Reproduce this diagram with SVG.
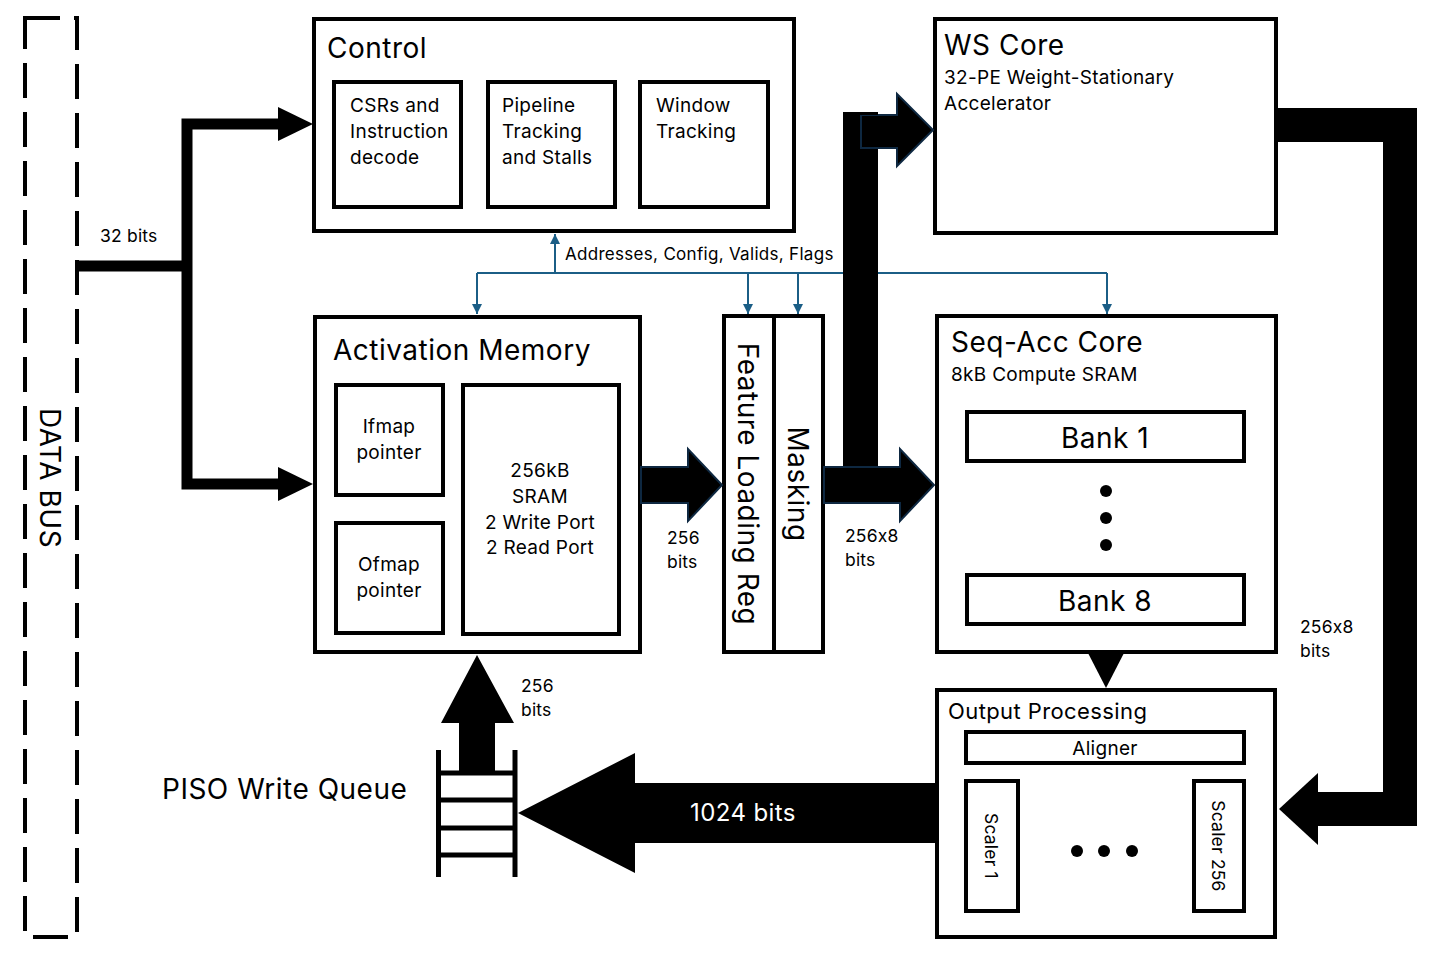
<svg xmlns="http://www.w3.org/2000/svg" width="1432" height="968" viewBox="0 0 1432 968">
<defs>
<style>
text{font-family:Inter,"Liberation Sans",sans-serif;fill:#000;font-feature-settings:"calt" 0}
.box{fill:#fff;stroke:#000;stroke-width:4}
.t28{font-size:28px;letter-spacing:0.5px}
.t19{font-size:19px;letter-spacing:0.3px}
.t17{font-size:17.5px;letter-spacing:0.2px}
.blue{fill:none;stroke:#1B5E86;stroke-width:2}
.blk{fill:#000;stroke:#0E2841;stroke-width:2;stroke-linejoin:miter}
</style>
<marker id="ba" viewBox="0 0 10 10" refX="10" refY="5" markerWidth="10" markerHeight="10" markerUnits="userSpaceOnUse" orient="auto">
<path d="M0,0 L10,5 L0,10 z" fill="#1B5E86"/>
</marker>
</defs>
<rect width="1432" height="968" fill="#fff"/>

<g id="databus">
<rect x="25" y="18" width="52" height="919" fill="none" stroke="#000" stroke-width="4" stroke-dasharray="35 14"/>
<text class="t28" transform="translate(40,478) rotate(90)" text-anchor="middle">DATA BUS</text>
</g>

<g id="control">
<rect class="box" x="314" y="19" width="480" height="212"/>
<text class="t28" x="327" y="58">Control</text>
<rect class="box" x="334" y="82" width="127" height="125"/>
<text class="t19" x="350" y="112">CSRs and</text>
<text class="t19" x="350" y="138">Instruction</text>
<text class="t19" x="350" y="164">decode</text>
<rect class="box" x="488" y="82" width="127" height="125"/>
<text class="t19" x="502" y="112">Pipeline</text>
<text class="t19" x="502" y="138">Tracking</text>
<text class="t19" x="502" y="164">and Stalls</text>
<rect class="box" x="640" y="82" width="128" height="125"/>
<text class="t19" x="656" y="112">Window</text>
<text class="t19" x="656" y="138">Tracking</text>
</g>

<g id="wscore">
<rect class="box" x="935" y="19" width="341" height="214"/>
<text class="t28" x="944" y="55">WS Core</text>
<text class="t19" x="944" y="84">32-PE Weight-Stationary</text>
<text class="t19" x="944" y="110">Accelerator</text>
</g>

<g id="actmem">
<rect class="box" x="315" y="317" width="325" height="335"/>
<text class="t28" x="333" y="360">Activation Memory</text>
<rect class="box" x="336" y="385" width="107" height="110"/>
<text class="t19" x="389" y="433" text-anchor="middle">Ifmap</text>
<text class="t19" x="389" y="459" text-anchor="middle">pointer</text>
<rect class="box" x="336" y="523" width="107" height="110"/>
<text class="t19" x="389" y="571" text-anchor="middle">Ofmap</text>
<text class="t19" x="389" y="597" text-anchor="middle">pointer</text>
<rect class="box" x="463" y="385" width="156" height="249"/>
<text class="t19" x="540" y="477" text-anchor="middle">256kB</text>
<text class="t19" x="540" y="503" text-anchor="middle">SRAM</text>
<text class="t19" x="540" y="529" text-anchor="middle">2 Write Port</text>
<text class="t19" x="540" y="554" text-anchor="middle">2 Read Port</text>
</g>

<g id="flreg">
<rect class="box" x="724" y="316" width="50" height="336"/>
<text class="t28" transform="translate(738,484) rotate(90)" text-anchor="middle">Feature Loading Reg</text>
</g>
<g id="masking">
<rect class="box" x="774" y="316" width="49" height="336"/>
<text class="t28" transform="translate(788,484) rotate(90)" text-anchor="middle">Masking</text>
</g>

<g id="seqacc">
<rect class="box" x="937" y="316" width="339" height="336"/>
<text class="t28" x="951" y="352">Seq-Acc Core</text>
<text class="t19" x="951" y="381">8kB Compute SRAM</text>
<rect class="box" x="967" y="412" width="277" height="49"/>
<text class="t28" x="1105" y="448" text-anchor="middle">Bank 1</text>
<circle cx="1106" cy="491" r="6"/>
<circle cx="1106" cy="518" r="6"/>
<circle cx="1106" cy="545" r="6"/>
<rect class="box" x="967" y="575" width="277" height="49"/>
<text class="t28" x="1105" y="611" text-anchor="middle">Bank 8</text>
</g>

<g id="outproc">
<rect class="box" x="937" y="690" width="338" height="247"/>
<text x="948" y="719" style="font-size:22px;letter-spacing:0.4px">Output Processing</text>
<rect class="box" x="966" y="732" width="278" height="31"/>
<text class="t19" x="1105" y="755" text-anchor="middle">Aligner</text>
<rect class="box" x="966" y="781" width="52" height="130"/>
<text class="t17" transform="translate(985,846) rotate(90)" text-anchor="middle">Scaler 1</text>
<rect class="box" x="1194" y="781" width="50" height="130"/>
<text class="t17" transform="translate(1212,846) rotate(90)" text-anchor="middle">Scaler 256</text>
<circle cx="1077" cy="851" r="6"/>
<circle cx="1104" cy="851" r="6"/>
<circle cx="1132" cy="851" r="6"/>
</g>

<g id="piso">
<text class="t28" x="162" y="799">PISO Write Queue</text>
<g stroke="#000" stroke-width="5">
<line x1="438.5" y1="750" x2="438.5" y2="877"/>
<line x1="515" y1="750" x2="515" y2="877"/>
<line x1="438" y1="773" x2="515" y2="773"/>
<line x1="438" y1="800" x2="515" y2="800"/>
<line x1="438" y1="828" x2="515" y2="828"/>
<line x1="438" y1="855" x2="515" y2="855"/>
</g>
</g>

<g id="connectors">
<path class="blue" d="M477 273 H1107"/>
<path class="blue" d="M555 273 V234" marker-end="url(#ba)"/>
<path class="blue" d="M477 273 V314" marker-end="url(#ba)"/>
<path class="blue" d="M748 273 V314" marker-end="url(#ba)"/>
<path class="blue" d="M798 273 V314" marker-end="url(#ba)"/>
<path class="blue" d="M1107 273 V314" marker-end="url(#ba)"/>
<text x="565" y="260" style="font-size:17px;letter-spacing:0.3px">Addresses, Config, Valids, Flags</text>

<path d="M77 266 H187 M280 124 H187 V484 H280" fill="none" stroke="#000" stroke-width="11"/>
<polygon points="278,107 313,124 278,141"/>
<polygon points="278,467 313,484 278,501"/>
<text class="t17" x="100" y="242">32 bits</text>

<polygon class="blk" points="641,467 688,467 688,449 722,485 688,521 688,503 641,503"/>
<text class="t17" x="667" y="544">256</text>
<text class="t17" x="667" y="568">bits</text>

<rect x="843" y="112" width="35" height="391" fill="#000"/>
<polygon class="blk" points="824,467 900,467 900,449 934,485 900,521 900,503 824,503"/>
<polygon class="blk" points="861,115 897,115 897,94 933,130 897,166 897,148 861,148"/>
<rect x="843" y="112" width="35" height="3" fill="#000"/>
<text class="t17" x="845" y="542">256x8</text>
<text class="t17" x="845" y="566">bits</text>

<path d="M1276 125 H1400 V809 H1316" fill="none" stroke="#000" stroke-width="34"/>
<polygon points="1318,773 1279,809 1318,845"/>
<text class="t17" x="1300" y="633">256x8</text>
<text class="t17" x="1300" y="657">bits</text>

<polygon points="1088,653 1124,653 1106,688"/>

<polygon points="937,783 635,783 635,753 518,813 635,873 635,843 937,843"/>
<text x="743" y="821" text-anchor="middle" style="font-size:24px;letter-spacing:0.4px;fill:#fff">1024 bits</text>

<polygon points="459,772 459,723 441,723 477,655 514,723 495,723 495,772"/>
<text class="t17" x="521" y="692">256</text>
<text class="t17" x="521" y="716">bits</text>
</g>
</svg>
